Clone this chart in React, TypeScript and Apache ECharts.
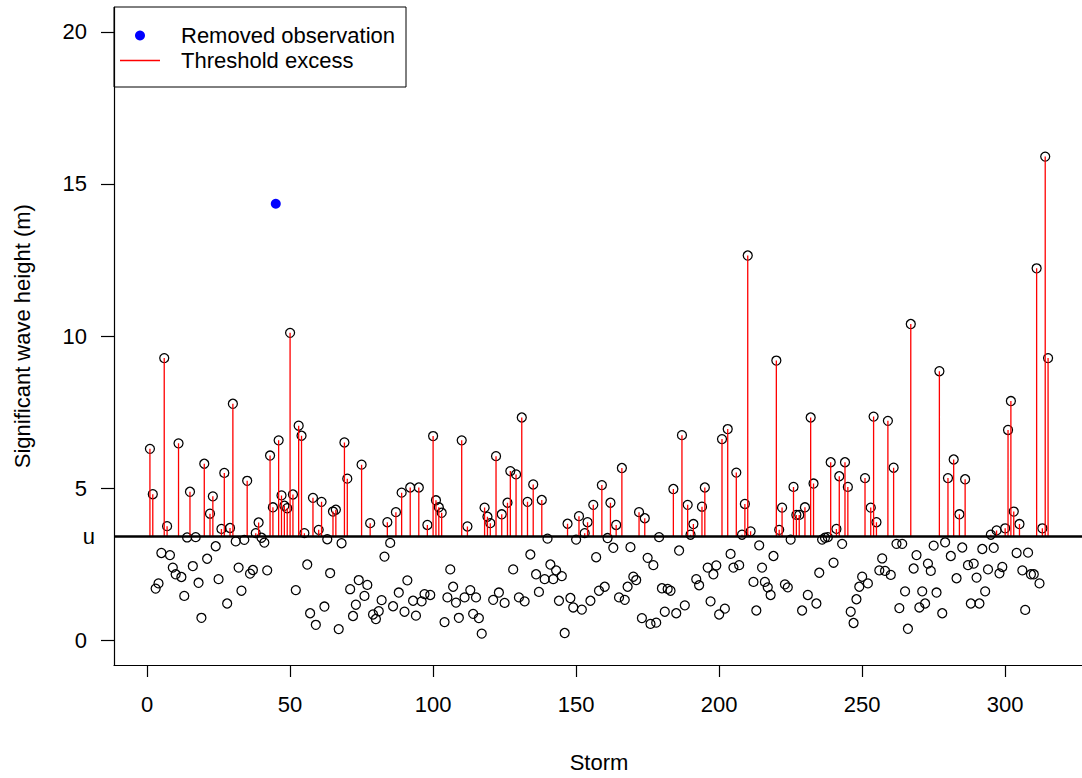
import React, { useEffect, useRef } from "react";
import * as echarts from "echarts";

// Significant wave height (m) for storms 1..315, in storm order
const heights: number[] = [
  6.30, 4.81, 1.71, 1.88, 2.88, 9.28, 3.76, 2.81, 2.40, 2.18,
  6.48, 2.09, 1.47, 3.39, 4.89, 2.45, 3.40, 1.90, 0.75, 5.81,
  2.69, 4.17, 4.74, 3.10, 2.02, 3.67, 5.51, 1.22, 3.70, 7.78,
  3.26, 2.40, 1.64, 3.31, 5.25, 2.20, 2.32, 3.53, 3.88, 3.38,
  3.22, 2.31, 6.08, 4.38, 14.35, 6.58, 4.77, 4.43, 4.35, 10.11,
  4.80, 1.66, 7.06, 6.73, 3.53, 2.50, 0.90, 4.69, 0.52, 3.64,
  4.56, 1.12, 3.33, 2.22, 4.24, 4.30, 0.38, 3.20, 6.51, 5.32,
  1.69, 0.81, 1.18, 1.99, 5.78, 1.47, 1.83, 3.86, 0.86, 0.71,
  0.97, 1.33, 2.76, 3.89, 3.21, 1.13, 4.22, 1.58, 4.86, 0.95,
  1.98, 5.03, 1.31, 0.82, 5.03, 1.29, 1.53, 3.80, 1.50, 6.72,
  4.61, 4.38, 4.20, 0.61, 1.42, 2.34, 1.77, 1.25, 0.75, 6.58,
  1.42, 3.75, 1.66, 0.88, 1.42, 0.74, 0.23, 4.37, 4.07, 3.86,
  1.34, 6.06, 1.58, 4.15, 1.24, 4.53, 5.57, 2.34, 5.46, 1.42,
  7.33, 1.29, 4.56, 2.83, 5.13, 2.18, 1.60, 4.62, 2.02, 3.35,
  2.50, 2.02, 2.31, 1.31, 2.12, 0.25, 3.84, 1.40, 1.09, 3.32,
  4.09, 1.02, 3.53, 3.89, 1.31, 4.46, 2.74, 1.64, 5.11, 1.77,
  3.37, 4.53, 3.05, 3.80, 1.42, 5.67, 1.34, 1.77, 3.07, 2.10,
  1.99, 4.22, 0.74, 4.02, 2.72, 0.55, 2.48, 0.59, 3.40, 1.72,
  0.95, 1.70, 1.64, 4.98, 0.90, 2.96, 6.75, 1.16, 4.46, 3.48,
  3.83, 2.02, 1.82, 4.40, 5.03, 2.40, 1.29, 2.18, 2.47, 0.86,
  6.62, 1.05, 6.95, 2.85, 2.40, 5.52, 2.48, 3.48, 4.49, 12.65,
  3.59, 1.93, 0.99, 3.13, 2.40, 1.93, 1.75, 1.50, 2.78, 9.20,
  3.64, 4.37, 1.85, 1.75, 3.32, 5.05, 4.13, 4.13, 0.99, 4.38,
  1.50, 7.33, 5.16, 1.22, 2.23, 3.32, 3.38, 3.40, 5.86, 2.56,
  3.67, 5.40, 3.18, 5.86, 5.05, 0.95, 0.58, 1.36, 1.77, 2.10,
  5.34, 1.88, 4.37, 7.36, 3.89, 2.31, 2.70, 2.29, 7.22, 2.16,
  5.68, 3.18, 1.07, 3.18, 1.62, 0.39, 10.40, 2.37, 2.81, 1.09,
  1.62, 1.22, 2.53, 2.29, 3.12, 1.58, 8.85, 0.90, 3.23, 5.34,
  2.78, 5.95, 2.05, 4.15, 3.06, 5.30, 2.48, 1.22, 2.53, 2.07,
  1.22, 3.01, 1.62, 2.34, 3.48, 3.05, 3.62, 2.21, 2.42, 3.69,
  6.92, 7.87, 4.24, 2.88, 3.83, 2.31, 1.01, 2.89, 2.18, 2.18,
  12.23, 1.88, 3.69, 15.90, 9.28,
];

const threshold = 3.42; // u
const removedStorm = 45;
const xTicks = [0, 50, 100, 150, 200, 250, 300];
const yTicks = [0, 5, 10, 15, 20];
const xRange = [-11.56, 327.56];
const yRange = [-0.8, 20.8];

const FONT = "'Liberation Sans', Arial, Helvetica, sans-serif";
const FS = 22;
const LINE_ICON = "path://M0,0H40V0.01H0Z M0,4.35H40V5.65H0Z M0,9.99H40V10H0Z";

export default function App() {
  const ref = useRef<HTMLDivElement>(null);

  useEffect(() => {
    if (!ref.current) return;
    const chart = echarts.init(ref.current, null, { renderer: "svg" });

    const storms = heights.map((_, i) => i + 1);
    const kept = storms
      .filter((s) => s !== removedStorm)
      .map((s) => [s, heights[s - 1]]);
    const removed = [[removedStorm, heights[removedStorm - 1]]];
    const excess: any[] = [];
    storms.forEach((s) => {
      const h = heights[s - 1];
      if (s !== removedStorm && h > threshold) {
        excess.push([s, threshold], [s, h], [s, "-"]);
      }
    });

    chart.setOption({
      animation: false,
      textStyle: { fontFamily: FONT },
      grid: { left: 114, width: 970, top: 7.4, height: 664.2 },
      legend: {
        data: [
          { name: "Removed observation", icon: "circle" },
          { name: "Threshold excess", icon: LINE_ICON },
        ],
        orient: "vertical",
        left: 114,
        top: 7,
        itemWidth: 40,
        itemHeight: 10,
        itemGap: 0,
        padding: [16, 11, 14, 6],
        borderColor: "#000",
        borderWidth: 1,
        selectedMode: false,
        textStyle: {
          fontSize: FS,
          color: "#000",
          fontFamily: FONT,
          lineHeight: 25,
          padding: [0, 0, 0, 16],
        },
      },
      xAxis: {
        type: "value",
        min: xRange[0],
        max: xRange[1],
        name: "Storm",
        nameLocation: "middle",
        nameGap: 86,
        nameTextStyle: { fontSize: FS, color: "#000", fontFamily: FONT },
        axisLine: { show: true, onZero: false, lineStyle: { color: "#000", width: 1.2 } },
        axisTick: {
          show: true,
          length: 12,
          customValues: xTicks,
          lineStyle: { color: "#000", width: 1.2 },
        },
        axisLabel: {
          customValues: xTicks,
          fontSize: FS,
          color: "#000",
          margin: 28,
          fontFamily: FONT,
        },
        splitLine: { show: false },
      },
      yAxis: {
        type: "value",
        min: yRange[0],
        max: yRange[1],
        name: "Significant wave height (m)",
        nameLocation: "middle",
        nameGap: 81,
        nameTextStyle: { fontSize: FS, color: "#000", fontFamily: FONT },
        axisLine: { show: true, onZero: false, lineStyle: { color: "#000", width: 1.2 } },
        axisTick: {
          show: true,
          length: 13,
          customValues: yTicks,
          lineStyle: { color: "#000", width: 1.2 },
        },
        axisLabel: {
          customValues: yTicks,
          fontSize: FS,
          color: "#000",
          margin: 27,
          fontFamily: FONT,
        },
        splitLine: { show: false },
      },
      series: [
        {
          name: "Storms",
          type: "scatter",
          data: kept,
          symbol: "circle",
          symbolSize: 9,
          itemStyle: {
            color: "rgba(0,0,0,0)",
            borderColor: "#000",
            borderWidth: 1.25,
            opacity: 1,
          },
          z: 2,
          silent: true,
          markLine: {
            silent: true,
            symbol: ["none", "none"],
            lineStyle: { color: "#000", width: 2.6, type: "solid" },
            label: {
              show: true,
              position: "start",
              formatter: "u",
              distance: 19,
              fontSize: FS,
              color: "#000",
              fontFamily: FONT,
            },
            data: [{ yAxis: threshold }],
          },
        },
        {
          name: "Threshold excess",
          type: "line",
          data: excess,
          symbol: "none",
          showSymbol: false,
          connectNulls: false,
          lineStyle: { color: "#ff0000", width: 1.3 },
          itemStyle: { color: "#ff0000" },
          z: 3,
          silent: true,
        },
        {
          name: "Removed observation",
          type: "scatter",
          data: removed,
          symbol: "circle",
          symbolSize: 10,
          itemStyle: { color: "#0000ff", opacity: 1 },
          z: 4,
          silent: true,
        },
      ],
    });

    return () => chart.dispose();
  }, []);

  return (
    <div
      style={{
        position: "fixed",
        left: 0,
        top: 0,
        width: 1082,
        height: 778,
        overflow: "hidden",
        background: "#fff",
      }}
    >
      <div ref={ref} style={{ width: 1084, height: 778 }} />
    </div>
  );
}
